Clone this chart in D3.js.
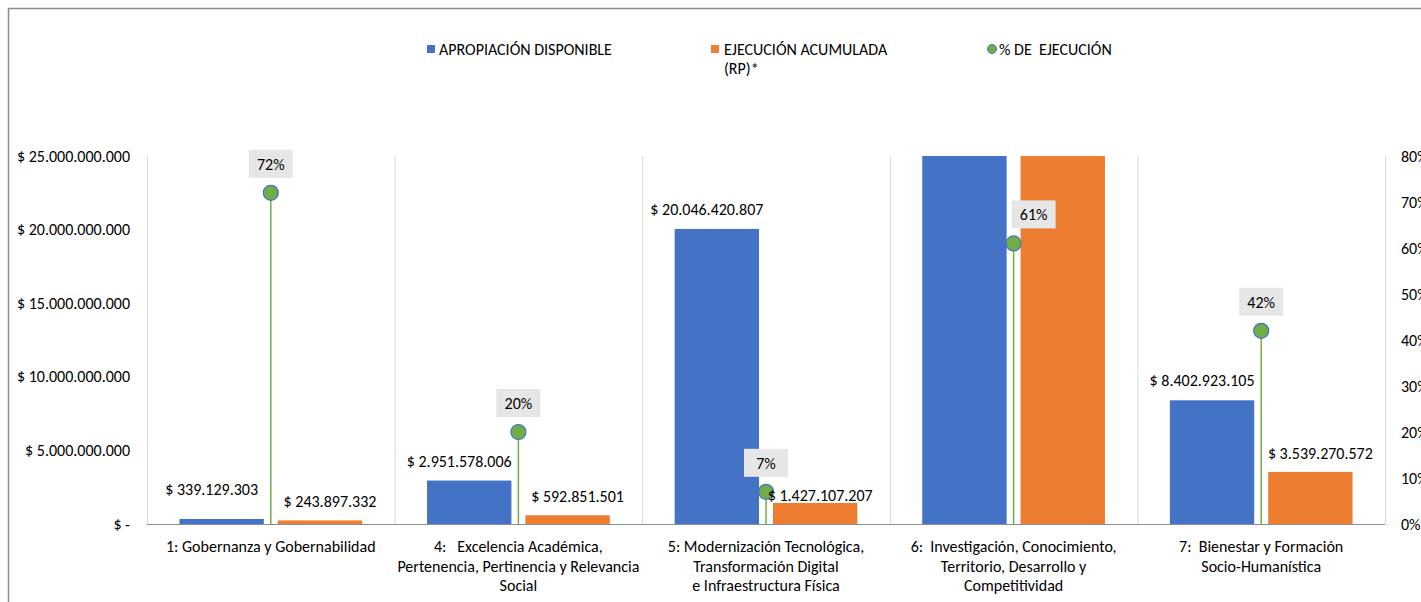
<!DOCTYPE html>
<html>
<head>
<meta charset="utf-8">
<script src="https://cdn.jsdelivr.net/npm/d3@7"></script>
<style>
  body { margin: 0; background: #fff; }
  svg text { font-family: Carlito, Calibri, "Liberation Sans", sans-serif; fill: #000; white-space: pre; }
</style>
</head>
<body>
<div id="chart"></div>
<script>
// categories (each label split into lines)
var categories = ["c1", "c4", "c5", "c6", "c7"]
var categoryLines = [
  ["1: Gobernanza y Gobernabilidad"],
  ["4:   Excelencia Académica,", "Pertenencia, Pertinencia y Relevancia", "Social"],
  ["5: Modernización Tecnológica,", "Transformación Digital", "e Infraestructura Física"],
  ["6:  Investigación, Conocimiento,", "Territorio, Desarrollo y", "Competitividad"],
  ["7:  Bienestar y Formación", "Socio-Humanística"]
]
// series
var apropiacion = [339129303, 2951578006, 20046420807, 45000000000, 8402923105]
var ejecucion   = [243897332, 592851501, 1427107207, 27450000000, 3539270572]
var pctEjecucion = [0.72, 0.20, 0.07, 0.61, 0.42]
// ticks
var leftTicks = [0, 5e9, 10e9, 15e9, 20e9, 25e9]
var rightTicks = [0, 0.1, 0.2, 0.3, 0.4, 0.5, 0.6, 0.7, 0.8]

var blue = "#4472c4", orange = "#ed7d31", green = "#70ad47"

var W = 1421, H = 602
var plotL = 147, plotR = 1385, plotT = 156, plotB = 524
var fs = "16px"

var svg = d3.select("#chart").append("svg")
  .attr("width", W).attr("height", H)

// chart border
svg.append("rect").attr("x", 8.5).attr("y", 8.5).attr("width", W + 20).attr("height", H + 20)
  .attr("fill", "none").attr("stroke", "#8c8c8c").attr("stroke-width", 1.5)

var x = d3.scaleBand().domain(categories).range([plotL, plotR]).paddingInner(0).paddingOuter(0)
var xs = d3.scaleBand().domain(["a", "e"]).range([0, x.bandwidth()]).paddingInner(0.142).paddingOuter(0.33)
var y = d3.scaleLinear().domain([0, 25e9]).range([plotB, plotT])
var y2 = d3.scaleLinear().domain([0, 0.8]).range([plotB, plotT])

function fmtMoney(v) {
  if (v === 0) return "$ -"
  return "$ " + d3.format(",")(v).replace(/,/g, ".")
}

// vertical category gridlines
var gridX = categories.map(function(c) { return x(c) }).concat([plotR])
svg.append("g").selectAll("line")
  .data(gridX)
  .join("line")
  .attr("x1", function(d) { return d + 0.5 })
  .attr("x2", function(d) { return d + 0.5 })
  .attr("y1", plotT).attr("y2", plotB)
  .attr("stroke", "#d9d9d9").attr("stroke-width", 1)

// left axis labels
svg.append("g").selectAll("text")
  .data(leftTicks).join("text")
  .attr("x", 130).attr("y", function(d) { return y(d) + 5.5 })
  .attr("text-anchor", "end").style("font-size", fs)
  .text(fmtMoney)

// right axis labels (cut by the picture edge, as in the original)
svg.append("g").selectAll("text")
  .data(rightTicks).join("text")
  .attr("x", 1401).attr("y", function(d) { return y2(d) + 5.5 })
  .style("font-size", fs)
  .text(function(d) { return Math.round(d * 100) + "%" })

// bars (clipped to plot area)
svg.append("clipPath").attr("id", "plot")
  .append("rect").attr("x", plotL).attr("y", plotT).attr("width", plotR - plotL).attr("height", plotB - plotT)

var barG = svg.append("g").attr("clip-path", "url(#plot)")
barG.selectAll("rect.a").data(apropiacion).join("rect")
  .attr("class", "a")
  .attr("x", function(d, i) { return x(categories[i]) + xs("a") })
  .attr("y", function(d) { return y(d) })
  .attr("width", xs.bandwidth())
  .attr("height", function(d) { return plotB - y(d) })
  .attr("fill", blue)
barG.selectAll("rect.e").data(ejecucion).join("rect")
  .attr("class", "e")
  .attr("x", function(d, i) { return x(categories[i]) + xs("e") })
  .attr("y", function(d) { return y(d) })
  .attr("width", xs.bandwidth())
  .attr("height", function(d) { return plotB - y(d) })
  .attr("fill", orange)

// baseline
svg.append("line").attr("x1", plotL).attr("x2", plotR).attr("y1", plotB + 0.5).attr("y2", plotB + 0.5)
  .attr("stroke", "#8c8c8c").attr("stroke-width", 1.2)

// % ejecucion: drop lines, points, labels
var cx = function(i) { return x(categories[i]) + x.bandwidth() / 2 }
svg.append("g").selectAll("line").data(pctEjecucion).join("line")
  .attr("x1", function(d, i) { return cx(i) }).attr("x2", function(d, i) { return cx(i) })
  .attr("y1", function(d) { return y2(d) }).attr("y2", plotB)
  .attr("stroke", green).attr("stroke-width", 1.5)

var pctG = svg.append("g")
var shift = { c6: 20 }
pctG.selectAll("rect").data(pctEjecucion).join("rect")
  .attr("x", function(d, i) { return cx(i) + (shift[categories[i]] || 0) - 22 })
  .attr("y", function(d) { return y2(d) - 43 })
  .attr("width", 44).attr("height", 28)
  .attr("fill", "#e7e6e6")
pctG.selectAll("text").data(pctEjecucion).join("text")
  .attr("x", function(d, i) { return cx(i) + (shift[categories[i]] || 0) })
  .attr("y", function(d) { return y2(d) - 23 })
  .attr("text-anchor", "middle").style("font-size", fs)
  .text(function(d) { return Math.round(d * 100) + "%" })

svg.append("g").selectAll("circle").data(pctEjecucion).join("circle")
  .attr("cx", function(d, i) { return cx(i) })
  .attr("cy", function(d) { return y2(d) })
  .attr("r", 7.5)
  .attr("fill", green).attr("stroke", blue).attr("stroke-width", 1.2)

// value labels (hidden when bar is above the axis max)
var blueNudge = { c1: -10 }
var orangeNudge = { c5: 11 }
var blueLabels = apropiacion.map(function(v, i) { return { v: v, c: categories[i] } }).filter(function(d) { return d.v <= 25e9 })
var orangeLabels = ejecucion.map(function(v, i) { return { v: v, c: categories[i] } }).filter(function(d) { return d.v <= 25e9 })

svg.append("g").selectAll("text").data(blueLabels).join("text")
  .attr("x", function(d) { return x(d.c) + xs("a") + xs.bandwidth() / 2 - 10 })
  .attr("y", function(d) { return y(d.v) - 14 + (blueNudge[d.c] || 0) })
  .attr("text-anchor", "middle").style("font-size", fs)
  .text(function(d) { return fmtMoney(d.v) })
svg.append("g").selectAll("text").data(orangeLabels).join("text")
  .attr("x", function(d) { return x(d.c) + xs("e") + xs.bandwidth() / 2 + (d.c === "c5" ? 5 : 10) })
  .attr("y", function(d) { return y(d.v) - 13 + (orangeNudge[d.c] || 0) })
  .attr("text-anchor", "middle").style("font-size", fs)
  .text(function(d) { return fmtMoney(d.v) })

// category labels
var catG = svg.append("g")
categoryLines.forEach(function(lines, i) {
  var t = catG.append("text")
    .attr("x", cx(i)).attr("y", 552)
    .attr("text-anchor", "middle").style("font-size", fs)
  lines.forEach(function(l, j) {
    t.append("tspan").attr("x", cx(i)).attr("dy", j === 0 ? 0 : 19.5).text(l)
  })
})

// legend
var leg = svg.append("g").style("font-size", fs)
leg.append("rect").attr("x", 427).attr("y", 45).attr("width", 8).attr("height", 8).attr("fill", blue)
leg.append("text").attr("x", 439).attr("y", 55).text("APROPIACIÓN DISPONIBLE")
leg.append("rect").attr("x", 711).attr("y", 45).attr("width", 8).attr("height", 8).attr("fill", orange)
leg.append("text").attr("x", 724).attr("y", 55).text("EJECUCIÓN ACUMULADA")
leg.append("text").attr("x", 724).attr("y", 74).text("(RP)*")
leg.append("circle").attr("cx", 992).attr("cy", 49).attr("r", 4.5).attr("fill", green).attr("stroke", blue).attr("stroke-width", 1)
leg.append("text").attr("x", 999).attr("y", 55).text("% DE  EJECUCIÓN")
</script>
</body>
</html>
